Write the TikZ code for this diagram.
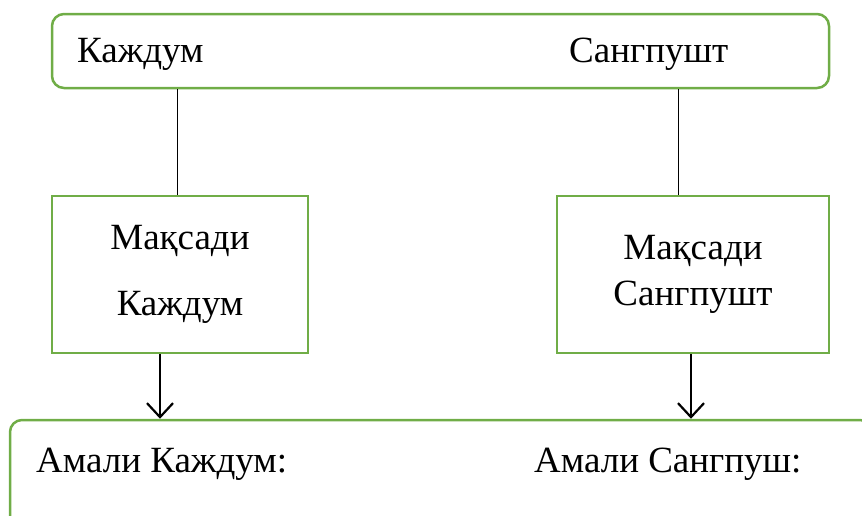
\documentclass[tikz,border=0pt]{standalone}
\usepackage{fontspec}
\setmainfont{Liberation Serif}
\usetikzlibrary{positioning,arrows.meta}
\definecolor{boxgreen}{RGB}{112,173,71}

\begin{document}
\begin{tikzpicture} [x=1pt, y=-1pt,
  greenbox/.style={draw=boxgreen, line width=2.5pt, inner sep=0pt},
  roundbox/.style={greenbox, rounded corners=12pt},
  label/.style={font=\fontsize{37}{44}\selectfont, inner sep=0pt, anchor=base west},
  downarrow/.style={line width=2.2pt, -{Straight Barb[length=14pt, width=26pt, line width=2.2pt]}}]

\useasboundingbox (0,0) rectangle (862,515);

\node [roundbox, minimum width=777, minimum height=74] (head) at (440.5,51) {};
\node [greenbox, minimum width=256, minimum height=157, align=center,
  font=\fontsize{37}{66}\selectfont] (goalA) at (180,274.5) {Мақсади\\Каждум};
\node [greenbox, minimum width=272, minimum height=157, align=center,
  font=\fontsize{37}{46}\selectfont] (goalB) at (693,274.5) {Мақсади\\Сангпушт};
\node [roundbox, minimum width=862, minimum height=120] (acts) at (441,480) {};

\node [label] (nameA) at (77,62) {Каждум};
\node [label] (nameB) at (569,62) {Сангпушт};
\node [label] (actA) at (36,472) {Амали Каждум:};
\node [label] (actB) at (534,472) {Амали Сангпуш:};

\draw [line width=1pt] ([xshift=-3]goalA.north |- head.south) -- ([xshift=-3]goalA.north);
\draw [line width=1pt] ([xshift=-15]goalB.north |- head.south) -- ([xshift=-15]goalB.north);
\draw [downarrow] ([xshift=-20]goalA.south) -- ([xshift=-20]goalA.south |- acts.north);
\draw [downarrow] ([xshift=-2]goalB.south) -- ([xshift=-2]goalB.south |- acts.north);

\end{tikzpicture}
\end{document}
